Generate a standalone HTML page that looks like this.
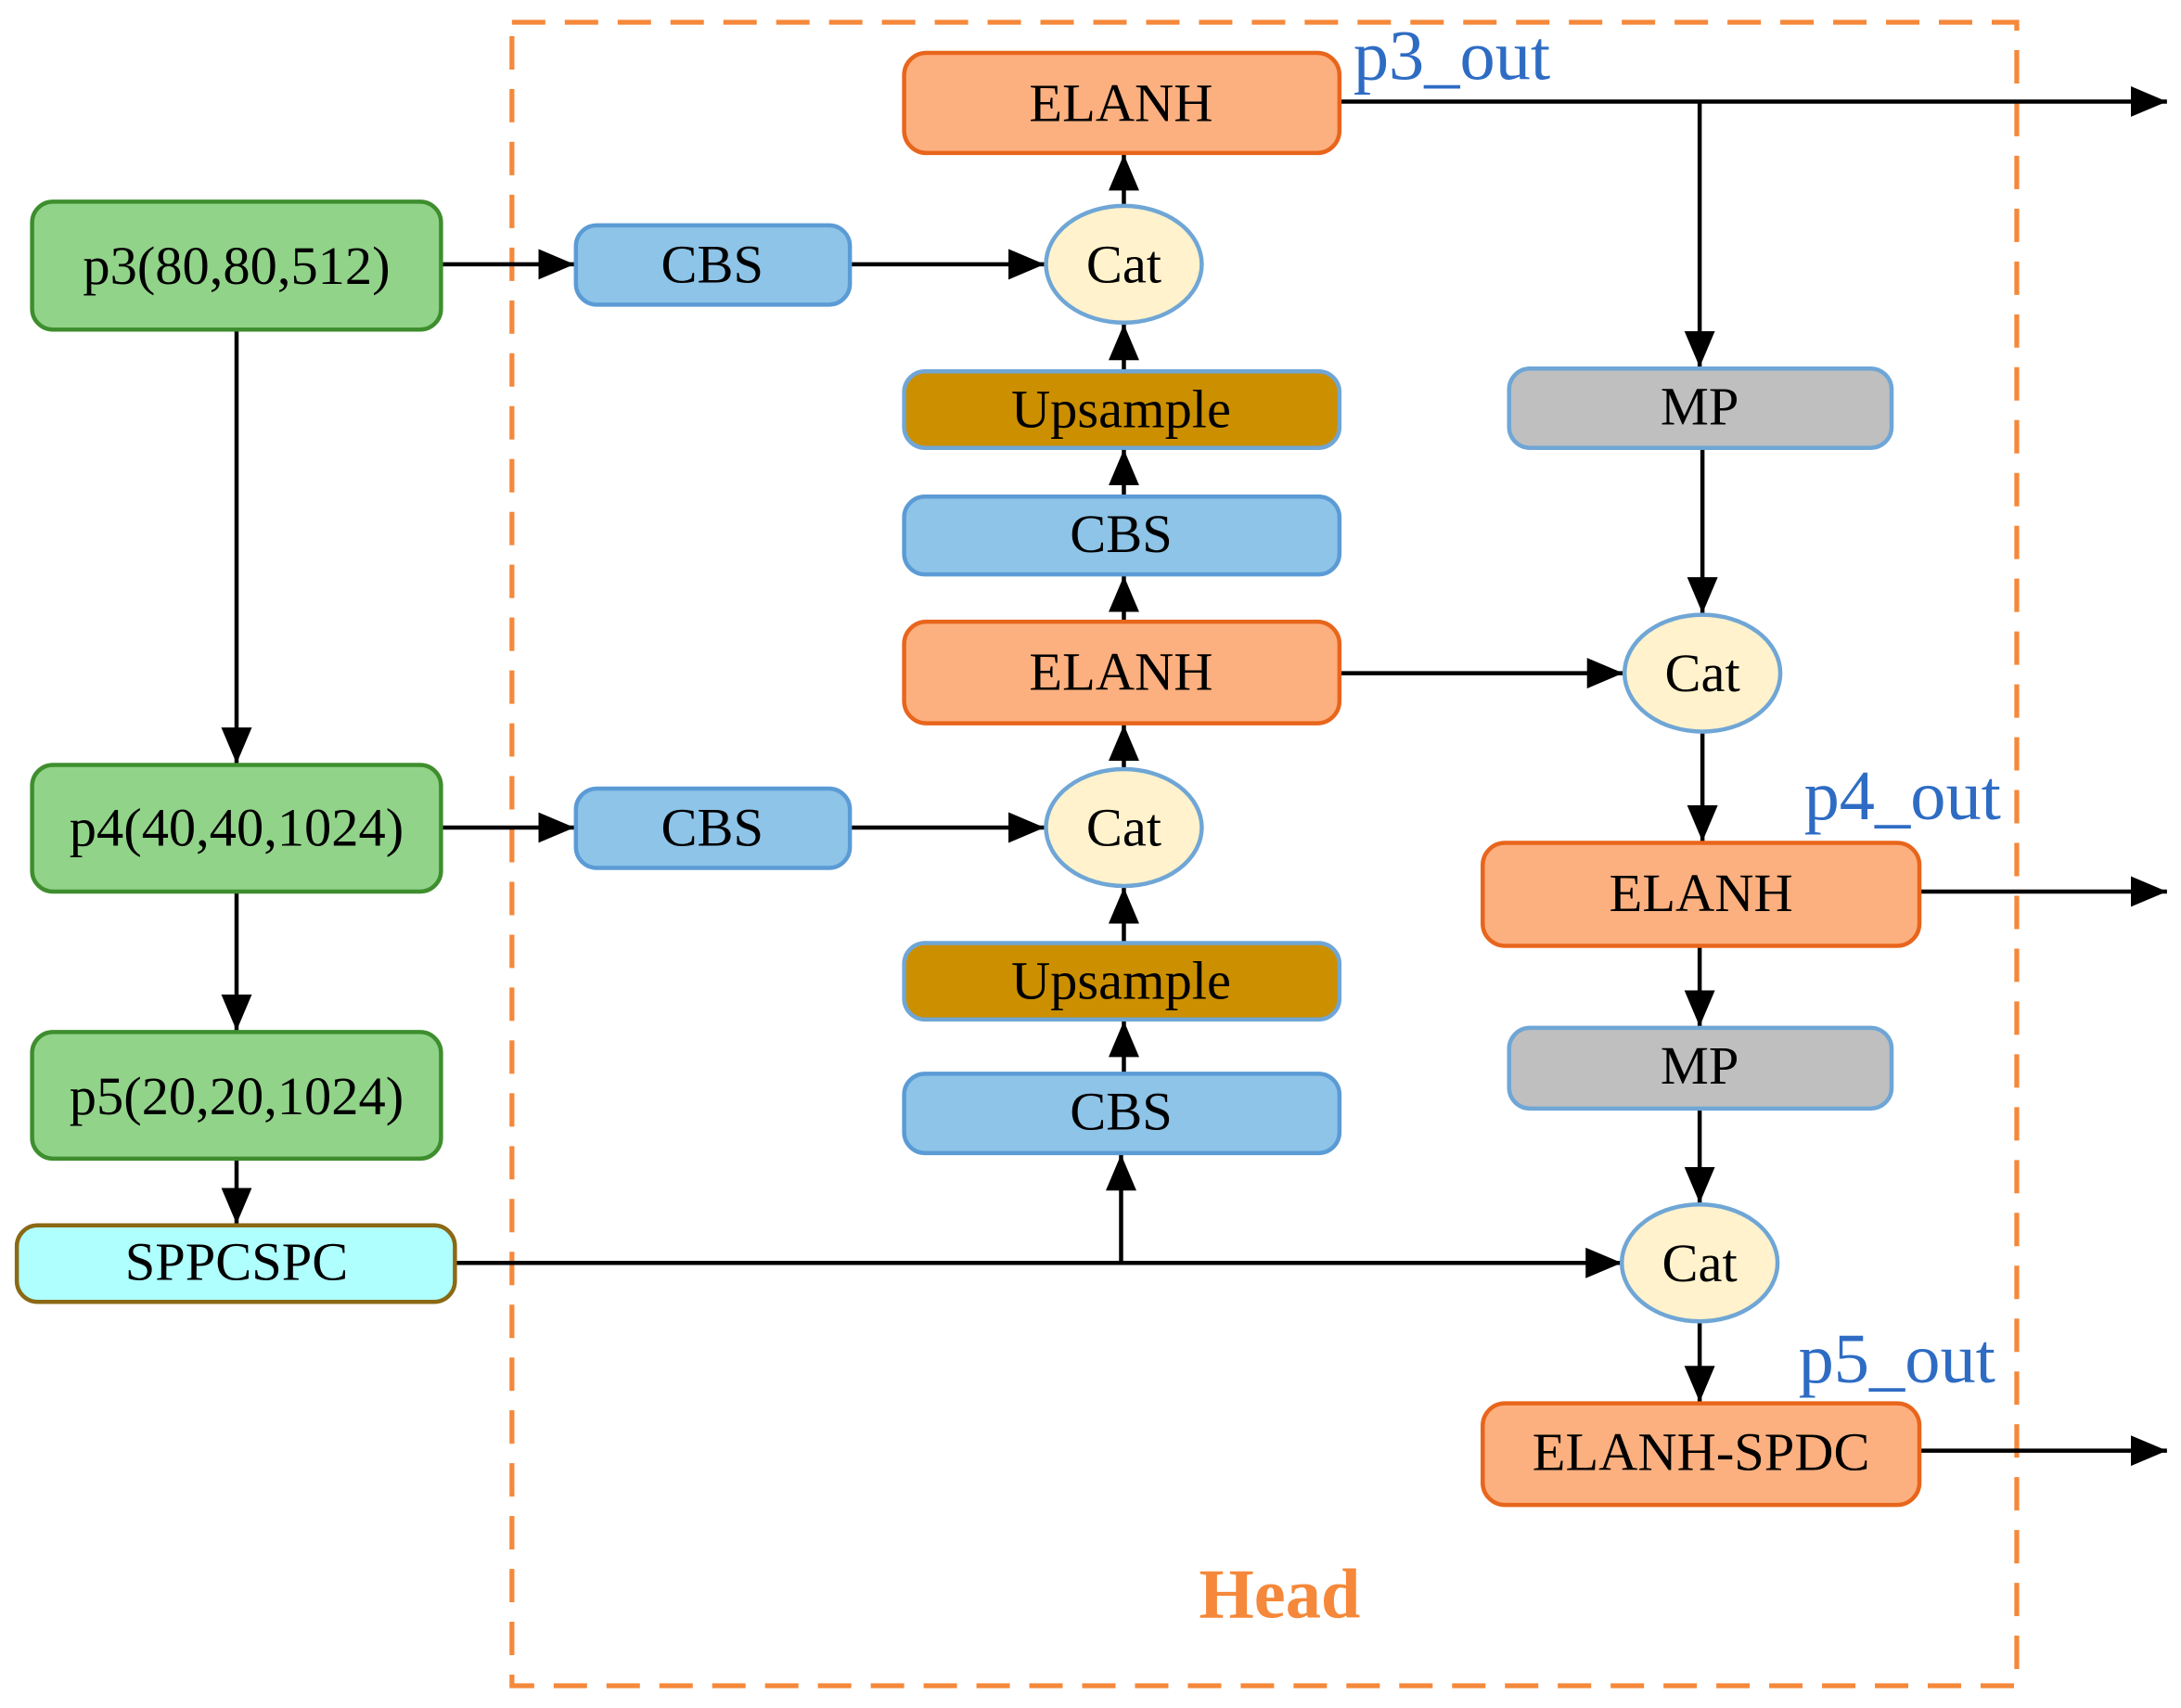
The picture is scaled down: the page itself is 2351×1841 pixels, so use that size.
<!DOCTYPE html>
<html><head><meta charset="utf-8"><style>
html,body{margin:0;padding:0;background:#fff;}
svg{display:block;}
text{font-family:"Liberation Serif",serif;}
</style></head><body>
<svg width="2351" height="1841" viewBox="0 0 1568 1228" xmlns="http://www.w3.org/2000/svg">
<defs>
<marker id="a" markerWidth="26" markerHeight="22" refX="26" refY="11" orient="auto" markerUnits="userSpaceOnUse">
<path d="M0,0 L26,11 L0,22 Z" fill="#000"/>
</marker>
</defs>
<rect x="368" y="16" width="1082" height="1196" fill="none" stroke="#F5883A" stroke-width="3.5" stroke-dasharray="24,14"/>
<g stroke="#000" stroke-width="3" fill="none">
<line x1="963" y1="73" x2="1558" y2="73" marker-end="url(#a)"/>
<line x1="1222" y1="73" x2="1222" y2="264" marker-end="url(#a)"/>
<line x1="317" y1="190" x2="413" y2="190" marker-end="url(#a)"/>
<line x1="611" y1="190" x2="751" y2="190" marker-end="url(#a)"/>
<line x1="808" y1="148" x2="808" y2="111" marker-end="url(#a)"/>
<line x1="808" y1="267" x2="808" y2="233" marker-end="url(#a)"/>
<line x1="808" y1="357" x2="808" y2="323" marker-end="url(#a)"/>
<line x1="808" y1="447" x2="808" y2="414" marker-end="url(#a)"/>
<line x1="963" y1="484" x2="1167" y2="484" marker-end="url(#a)"/>
<line x1="1224" y1="322" x2="1224" y2="441" marker-end="url(#a)"/>
<line x1="1224" y1="526" x2="1224" y2="605" marker-end="url(#a)"/>
<line x1="1380" y1="641" x2="1558" y2="641" marker-end="url(#a)"/>
<line x1="1222" y1="680" x2="1222" y2="738" marker-end="url(#a)"/>
<line x1="1222" y1="797" x2="1222" y2="865" marker-end="url(#a)"/>
<line x1="1222" y1="950" x2="1222" y2="1008" marker-end="url(#a)"/>
<line x1="1380" y1="1043" x2="1558" y2="1043" marker-end="url(#a)"/>
<line x1="317" y1="595" x2="413" y2="595" marker-end="url(#a)"/>
<line x1="611" y1="595" x2="751" y2="595" marker-end="url(#a)"/>
<line x1="808" y1="553" x2="808" y2="521" marker-end="url(#a)"/>
<line x1="808" y1="678" x2="808" y2="638" marker-end="url(#a)"/>
<line x1="808" y1="772" x2="808" y2="734" marker-end="url(#a)"/>
<line x1="170" y1="237" x2="170" y2="549" marker-end="url(#a)"/>
<line x1="170" y1="641" x2="170" y2="741" marker-end="url(#a)"/>
<line x1="170" y1="833" x2="170" y2="880" marker-end="url(#a)"/>
<line x1="327" y1="908" x2="1166" y2="908" marker-end="url(#a)"/>
<line x1="806" y1="908" x2="806" y2="830" marker-end="url(#a)"/>
</g>
<g stroke-width="3">
<rect x="650" y="38" width="313" height="72" rx="16" fill="#FDB07F" stroke="#E8651C"/>
<rect x="650" y="447" width="313" height="73" rx="16" fill="#FDB07F" stroke="#E8651C"/>
<rect x="1066" y="606" width="314" height="74" rx="16" fill="#FDB07F" stroke="#E8651C"/>
<rect x="1066" y="1009" width="314" height="73" rx="16" fill="#FDB07F" stroke="#E8651C"/>
<rect x="650" y="267" width="313" height="55" rx="15" fill="#CC8F00" stroke="#6FA6D6"/>
<rect x="650" y="678" width="313" height="55" rx="15" fill="#CC8F00" stroke="#6FA6D6"/>
<rect x="650" y="357" width="313" height="56" rx="15" fill="#8DC4E8" stroke="#5B9BD5"/>
<rect x="650" y="772" width="313" height="57" rx="15" fill="#8DC4E8" stroke="#5B9BD5"/>
<rect x="414" y="162" width="197" height="57" rx="15" fill="#8DC4E8" stroke="#5B9BD5"/>
<rect x="414" y="567" width="197" height="57" rx="15" fill="#8DC4E8" stroke="#5B9BD5"/>
<rect x="1085" y="265" width="275" height="57" rx="15" fill="#BFBFBF" stroke="#6FA6D6"/>
<rect x="1085" y="739" width="275" height="58" rx="15" fill="#BFBFBF" stroke="#6FA6D6"/>
<rect x="23" y="145" width="294" height="92" rx="15" fill="#92D38A" stroke="#3E8E2E"/>
<rect x="23" y="550" width="294" height="91" rx="15" fill="#92D38A" stroke="#3E8E2E"/>
<rect x="23" y="742" width="294" height="91" rx="15" fill="#92D38A" stroke="#3E8E2E"/>
<rect x="12" y="881" width="315" height="55" rx="15" fill="#AFFFFF" stroke="#8B6914"/>
<ellipse cx="808" cy="190" rx="56" ry="42" fill="#FFF2CC" stroke="#6FA6D6"/>
<ellipse cx="808" cy="595" rx="56" ry="42" fill="#FFF2CC" stroke="#6FA6D6"/>
<ellipse cx="1224" cy="484" rx="56" ry="42" fill="#FFF2CC" stroke="#6FA6D6"/>
<ellipse cx="1222" cy="908" rx="56" ry="42" fill="#FFF2CC" stroke="#6FA6D6"/>
</g>
<g font-size="39" text-anchor="middle" fill="#000">
<text x="806" y="87">ELANH</text>
<text x="806" y="496">ELANH</text>
<text x="1223" y="655">ELANH</text>
<text x="1223" y="1057">ELANH-SPDC</text>
<text x="806" y="307">Upsample</text>
<text x="806" y="718">Upsample</text>
<text x="806" y="397">CBS</text>
<text x="806" y="812">CBS</text>
<text x="512" y="203">CBS</text>
<text x="512" y="608">CBS</text>
<text x="1222" y="305">MP</text>
<text x="1222" y="779">MP</text>
<text x="808" y="203">Cat</text>
<text x="808" y="608">Cat</text>
<text x="1224" y="497">Cat</text>
<text x="1222" y="921">Cat</text>
<text x="170" y="204">p3(80,80,512)</text>
<text x="170" y="608">p4(40,40,1024)</text>
<text x="170" y="801">p5(20,20,1024)</text>
<text x="170" y="920">SPPCSPC</text>
</g>
<g font-size="51" fill="#2E6CC4">
<text x="973" y="57">p3_out</text>
<text x="1297" y="589">p4_out</text>
<text x="1293" y="994">p5_out</text>
</g>
<text x="920" y="1163" font-size="51" font-weight="bold" fill="#F5883A" text-anchor="middle">Head</text>
</svg>
</body></html>
